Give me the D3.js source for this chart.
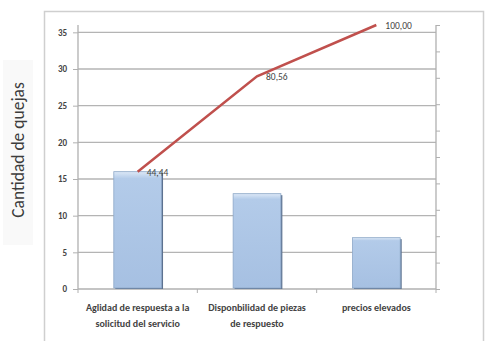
<!DOCTYPE html>
<html>
<head>
<meta charset="utf-8">
<script src="https://cdn.jsdelivr.net/npm/d3@7"></script>
<style>
  body { margin: 0; background: #fff; }
  #chart { width: 490px; height: 341px; }
  text { font-family: Calibri, Carlito, "Liberation Sans", "DejaVu Sans", sans-serif; }
</style>
</head>
<body>
<div id="chart"></div>
<script>
let categories = [
    ["Aglidad de respuesta a la", "solicitud del servicio"],
    ["Disponbilidad de piezas", "de respuesto"],
    ["precios elevados"]
];
let quejas = [16, 13, 7];
let acumulado = [44.44, 80.56, 100.00];
let leftTicks = [0, 5, 10, 15, 20, 25, 30, 35];
let rightTicks = [0, 10, 20, 30, 40, 50, 60, 70, 80, 90, 100];

let drawChart = function() {
    let w = 490, h = 341;
    let margin = {left: 78, right: 54, top: 25, bottom: 52};

    let svg = d3.select("#chart")
      .append("svg")
        .attr("width", w)
        .attr("height", h);

    let defs = svg.append("defs");
    let grad = defs.append("linearGradient")
        .attr("id", "barFill")
        .attr("x1", 0).attr("y1", 0).attr("x2", 0).attr("y2", 1);
    grad.append("stop").attr("offset", "0%").attr("stop-color", "#dce8f6");
    grad.append("stop").attr("offset", "6%").attr("stop-color", "#b3cbe9");
    grad.append("stop").attr("offset", "100%").attr("stop-color", "#a6c0e2");

    // outer frame
    svg.append("rect")
        .attr("x", 44.5).attr("y", 11.5)
        .attr("width", 439).attr("height", 340)
        .attr("fill", "none")
        .attr("stroke", "#cfcfcf")
        .attr("stroke-width", 1.5);

    // y title box + text
    svg.append("rect")
        .attr("x", 3).attr("y", 60)
        .attr("width", 30).attr("height", 185)
        .attr("fill", "#f9f9f9");
    svg.append("text")
        .attr("transform", "translate(24,150) rotate(-90)")
        .attr("text-anchor", "middle")
        .attr("font-size", 17.5)
        .attr("fill", "#3c3c3c")
        .text("Cantidad de quejas");

    let x = d3.scaleBand()
        .domain(d3.range(categories.length))
        .range([margin.left, w - margin.right])
        .paddingInner(0.6)
        .paddingOuter(0.3);
    let xOuter = d3.scaleBand()
        .domain(d3.range(categories.length))
        .range([margin.left, w - margin.right]);

    let y = d3.scaleLinear().domain([0, 36]).range([h - margin.bottom, margin.top]);
    let y2 = d3.scaleLinear().domain([0, 100]).range([h - margin.bottom, margin.top]);

    // gridlines
    svg.append("g")
        .selectAll("line")
        .data(leftTicks.filter(d => d > 0))
      .enter().append("line")
        .attr("x1", margin.left).attr("x2", w - margin.right)
        .attr("y1", d => y(d)).attr("y2", d => y(d))
        .attr("stroke", "#b4b4b4")
        .attr("stroke-width", 1.3);

    // left axis
    let yAxis = svg.append("g")
        .attr("transform", "translate(" + margin.left + ",0)")
        .call(d3.axisLeft(y).tickValues(leftTicks).tickSize(5).tickPadding(6));
    yAxis.select(".domain").attr("stroke", "#b0b0b0").attr("stroke-width", 1.3)
        .attr("d", "M-0," + y(36) + "V" + y(0));
    yAxis.selectAll(".tick line").attr("stroke", "#b0b0b0");
    yAxis.selectAll(".tick text").attr("font-size", 9).attr("font-weight", "bold").attr("fill", "#444");

    // right axis
    let y2Axis = svg.append("g")
        .attr("transform", "translate(" + (w - margin.right) + ",0)")
        .call(d3.axisRight(y2).tickValues(rightTicks).tickSize(4).tickFormat(""));
    y2Axis.select(".domain").attr("stroke", "#b0b0b0").attr("stroke-width", 1.3)
        .attr("d", "M0," + y2(100) + "V" + y2(0));
    y2Axis.selectAll(".tick line").attr("stroke", "#b0b0b0");

    // x axis
    let xAxisG = svg.append("g")
        .attr("transform", "translate(0," + (h - margin.bottom) + ")");
    xAxisG.append("line")
        .attr("x1", margin.left).attr("x2", w - margin.right)
        .attr("stroke", "#b0b0b0").attr("stroke-width", 1.3);
    let bounds = d3.range(categories.length + 1).map(i =>
        i < categories.length ? xOuter(i) : xOuter(i - 1) + xOuter.bandwidth());
    xAxisG.selectAll("line.tk")
        .data(bounds)
      .enter().append("line")
        .attr("class", "tk")
        .attr("x1", d => d).attr("x2", d => d)
        .attr("y1", 0).attr("y2", 4)
        .attr("stroke", "#b0b0b0");
    let labels = xAxisG.selectAll("text.cat")
        .data(categories)
      .enter().append("text")
        .attr("class", "cat")
        .attr("text-anchor", "middle")
        .attr("font-size", 10)
        .attr("font-weight", "bold")
        .attr("fill", "#444");
    labels.selectAll("tspan")
        .data((d, i) => d.map(s => ({s: s, i: i})))
      .enter().append("tspan")
        .attr("x", d => xOuter(d.i) + xOuter.bandwidth() / 2)
        .attr("y", (d, j) => 22 + j * 16)
        .text(d => d.s);

    // bars
    let bars = svg.append("g").selectAll("g.bar")
        .data(quejas)
      .enter().append("g")
        .attr("class", "bar");
    bars.append("rect")
        .attr("x", (d, i) => x(i) + 1.5)
        .attr("y", d => y(d) + 1.5)
        .attr("width", x.bandwidth())
        .attr("height", d => y(0) - y(d) - 1.5)
        .attr("fill", "#5d7290");
    bars.append("rect")
        .attr("x", (d, i) => x(i))
        .attr("y", d => y(d))
        .attr("width", x.bandwidth())
        .attr("height", d => y(0) - y(d) - 1)
        .attr("fill", "url(#barFill)")
        .attr("stroke", "#8ea8c8")
        .attr("stroke-width", 0.8);

    // cumulative line
    let line = d3.line()
        .x((d, i) => xOuter(i) + xOuter.bandwidth() / 2)
        .y(d => y2(d));
    svg.append("path")
        .datum(acumulado)
        .attr("d", line)
        .attr("fill", "none")
        .attr("stroke", "#c0504d")
        .attr("stroke-width", 2.5);

    svg.append("g").selectAll("text")
        .data(acumulado)
      .enter().append("text")
        .attr("x", (d, i) => xOuter(i) + xOuter.bandwidth() / 2 + 9)
        .attr("y", d => y2(d) + 4)
        .attr("font-size", 9.5)
        .attr("fill", "#444")
        .text(d => d.toFixed(2).replace(".", ","));
};

drawChart();
</script>
</body>
</html>
